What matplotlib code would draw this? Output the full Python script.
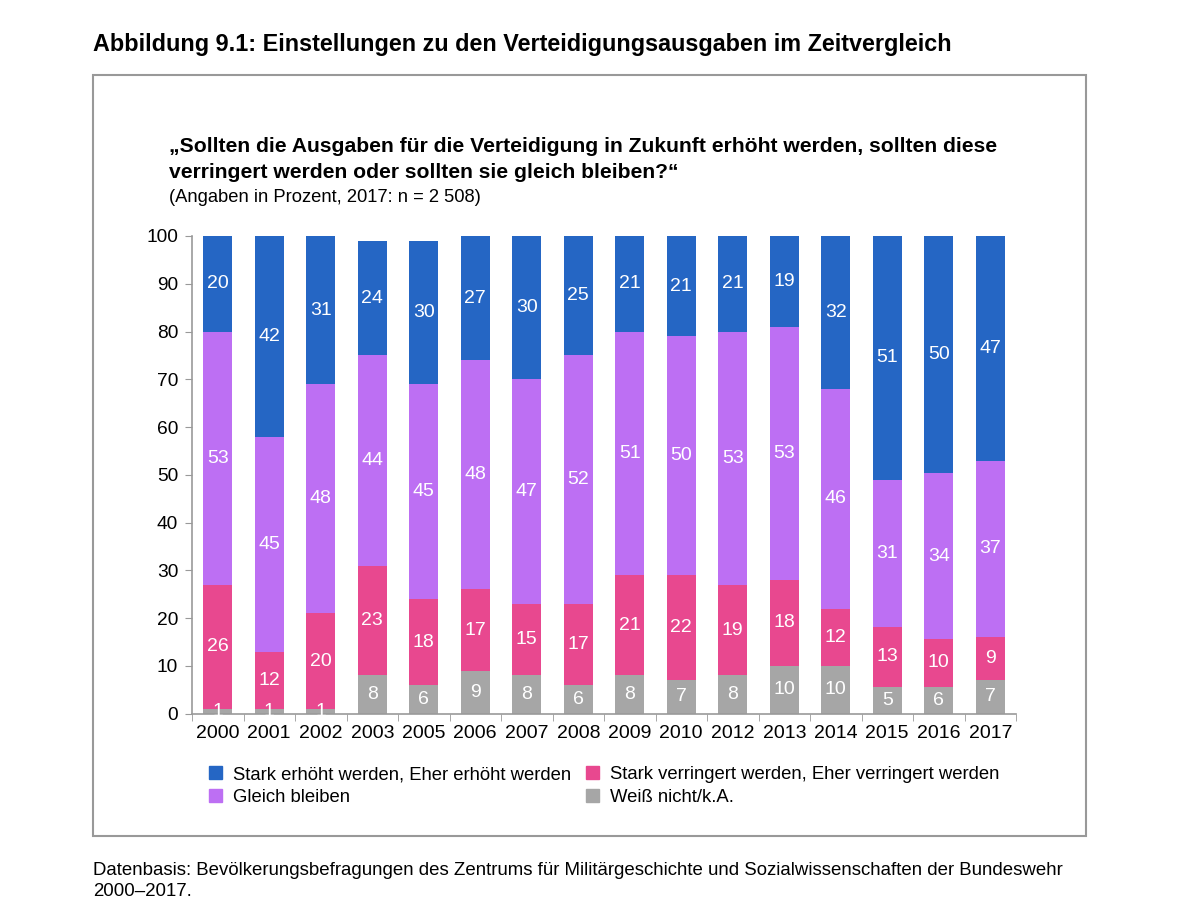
import numpy as np
from matplotlib import pyplot as plt
from matplotlib.patches import Rectangle, Patch

plt.rcParams['font.family'] = ['Liberation Sans', 'DejaVu Sans']

years = ['2000', '2001', '2002', '2003', '2005', '2006', '2007', '2008',
         '2009', '2010', '2012', '2013', '2014', '2015', '2016', '2017']

# printed labels (percent)
lab_weiss = [1, 1, 1, 8, 6, 9, 8, 6, 8, 7, 8, 10, 10, 5, 6, 7]
lab_verringert = [26, 12, 20, 23, 18, 17, 15, 17, 21, 22, 19, 18, 12, 13, 10, 9]
lab_gleich = [53, 45, 48, 44, 45, 48, 47, 52, 51, 50, 53, 53, 46, 31, 34, 37]
lab_erhoeht = [20, 42, 31, 24, 30, 27, 30, 25, 21, 21, 21, 19, 32, 51, 50, 47]

# segment heights as drawn in the picture
weiss = [1, 1, 1, 8, 6, 9, 8, 6, 8, 7, 8, 10, 10, 5.6, 5.6, 7]
verringert = [26, 12, 20, 23, 18, 17, 15, 17, 21, 22, 19, 18, 12, 12.6, 10.1, 9]
gleich = [53, 45, 48, 44, 45, 48, 47, 52, 51, 50, 53, 53, 46, 30.8, 34.6, 37]
erhoeht = [20, 42, 31, 24, 30, 26, 30, 25, 20, 21, 20, 19, 32, 51, 49.7, 47]

c_blue = '#2566C4'
c_purple = '#BD6FF3'
c_pink = '#E8488F'
c_gray = '#A6A6A6'

fig = plt.figure(figsize=(12, 9.21), dpi=100)

# titles and frame
fig.text(93 / 1200, 1 - 44 / 921, 'Abbildung 9.1: Einstellungen zu den Verteidigungsausgaben im Zeitvergleich',
         fontsize=16.8, fontweight='bold', va='center', ha='left')
fig.patches.append(Rectangle((93 / 1200, 1 - 836 / 921), (1086 - 93) / 1200, (836 - 75) / 921,
                             transform=fig.transFigure, fill=False, edgecolor='#999999', linewidth=1.5))
fig.text(169 / 1200, 1 - 147 / 921,
         '„Sollten die Ausgaben für die Verteidigung in Zukunft erhöht werden, sollten diese',
         fontsize=15.2, fontweight='bold', va='center', ha='left')
fig.text(169 / 1200, 1 - 173 / 921, 'verringert werden oder sollten sie gleich bleiben?“',
         fontsize=15.2, fontweight='bold', va='center', ha='left')
fig.text(169 / 1200, 1 - 197 / 921, '(Angaben in Prozent, 2017: n = 2 508)',
         fontsize=13.2, va='center', ha='left')
fig.text(93 / 1200, 1 - 870 / 921,
         'Datenbasis: Bevölkerungsbefragungen des Zentrums für Militärgeschichte und Sozialwissenschaften der Bundeswehr',
         fontsize=13.4, va='center', ha='left')
fig.text(93 / 1200, 1 - 891 / 921, '2000–2017.', fontsize=13.4, va='center', ha='left')

ax = fig.add_axes([192 / 1200, 1 - 713.7 / 921, (1016 - 192) / 1200, (713.7 - 236) / 921])

x = np.arange(len(years))
w = 0.565
layers = [(weiss, lab_weiss, c_gray), (verringert, lab_verringert, c_pink),
          (gleich, lab_gleich, c_purple), (erhoeht, lab_erhoeht, c_blue)]
bottom = np.zeros(len(years))
for vals, labs, col in layers:
    vals = np.array(vals, dtype=float)
    ax.bar(x, vals, w, bottom=bottom, color=col, edgecolor='none')
    for xi, b, v, l in zip(x, bottom, vals, labs):
        ax.text(xi, b + v / 2, str(l), ha='center', va='center', color='white', fontsize=14)
    bottom += vals

ax.set_xlim(-0.5, len(years) - 0.5)
ax.set_ylim(0, 100)
ax.set_yticks(range(0, 101, 10))
ax.set_xticks(x)
ax.set_xticklabels(years)
ax.set_xticks(np.arange(-0.5, len(years), 1), minor=True)
ax.tick_params(axis='x', which='major', length=0, labelsize=14, pad=8)
ax.tick_params(axis='x', which='minor', length=5, color='#999999')
ax.tick_params(axis='y', length=5, color='#999999', labelsize=13.8, pad=5)
for s in ['top', 'right']:
    ax.spines[s].set_visible(False)
for s in ['left', 'bottom']:
    ax.spines[s].set_color('#999999')
    ax.spines[s].set_linewidth(1.2)

handles = [Patch(color=c_blue, label='Stark erhöht werden, Eher erhöht werden'),
           Patch(color=c_purple, label='Gleich bleiben'),
           Patch(color=c_pink, label='Stark verringert werden, Eher verringert werden'),
           Patch(color=c_gray, label='Weiß nicht/k.A.')]
fig.legend(handles=handles, ncol=2, loc='upper left', bbox_to_anchor=(209 / 1200, 1 - 766 / 921),
           frameon=False, fontsize=13.3, handlelength=0.7, handleheight=0.7, handletextpad=0.6,
           columnspacing=0.8, labelspacing=0.33, borderaxespad=0, borderpad=0)

fig.savefig('out.png', dpi=100)
